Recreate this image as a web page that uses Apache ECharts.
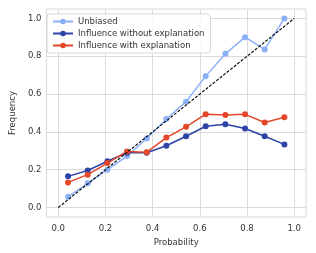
<!DOCTYPE html>
<html><head><meta charset="utf-8">
<script src="https://cdn.jsdelivr.net/npm/echarts@6/dist/echarts.min.js"></script>
<style>html,body{margin:0;padding:0;background:#fff}#c{width:316px;height:253px}</style>
</head><body><div id="c"></div>
<script>
const probs = [0.0417,0.125,0.2083,0.2917,0.375,0.4583,0.5417,0.625,0.7083,0.7917,0.875,0.9583];
const unbiased = [0.057,0.128,0.200,0.272,0.365,0.468,0.560,0.695,0.813,0.901,0.836,1.000];
const noExpl = [0.165,0.196,0.245,0.290,0.290,0.327,0.377,0.430,0.441,0.418,0.377,0.334];
const withExpl = [0.133,0.174,0.235,0.297,0.293,0.370,0.427,0.494,0.489,0.493,0.450,0.477];
const ticks = [0,0.2,0.4,0.6,0.8,1.0];
const diag = [[0,0],[1,1]];
const names = ['Unbiased','Influence without explanation','Influence with explanation'];
const colors = ['#8cb0f8','#2e43a6','#e4472a'];
const pair = (arr)=>probs.map((p,i)=>[p,arr[i]]);
const chart = echarts.init(document.getElementById('c'));
const axisCommon = {
  type:'value', min:-0.05, max:1.05,
  axisLine:{show:false},
  axisTick:{show:false, customValues:ticks},
  axisLabel:{customValues:ticks, formatter:v=>v.toFixed(1), color:'#333', fontSize:8.5, fontFamily:'DejaVu Sans'},
  splitLine:{show:true, lineStyle:{color:'#dcdcdc', width:1}},
  nameTextStyle:{color:'#333', fontSize:8.5, fontFamily:'DejaVu Sans'}
};
const mk = (name, data, color)=>({
  name, type:'line', data:pair(data), symbol:'circle', symbolSize:6,
  lineStyle:{color, width:1.5}, itemStyle:{color}, z:3
});
chart.setOption({
  animation:false,
  grid:{left:42, right:10, top:9, bottom:36, show:true, borderColor:'#d8d8d8', borderWidth:1},
  xAxis:Object.assign({}, axisCommon, {name:'Probability', nameLocation:'middle', nameGap:17, axisLabel:Object.assign({}, axisCommon.axisLabel, {margin:7})}),
  yAxis:Object.assign({}, axisCommon, {name:'Frequency', nameLocation:'middle', nameGap:28, axisLabel:Object.assign({}, axisCommon.axisLabel, {margin:5})}),
  legend:{
    data:names, orient:'vertical', left:47, top:14,
    itemWidth:20, itemHeight:7, itemGap:3,
    backgroundColor:'rgba(255,255,255,0.85)', borderColor:'#d8d8d8', borderWidth:1, borderRadius:3,
    padding:[3,6,3,5],
    textStyle:{color:'#333', fontSize:8.5, fontFamily:'DejaVu Sans'}
  },
  series:[
    {type:'line', data:diag, symbol:'none', silent:true, lineStyle:{color:'#000', width:1.1, type:[3,1.5]}, z:4},
    mk(names[0], unbiased, colors[0]),
    mk(names[1], noExpl, colors[1]),
    mk(names[2], withExpl, colors[2])
  ]
});
</script></body></html>
